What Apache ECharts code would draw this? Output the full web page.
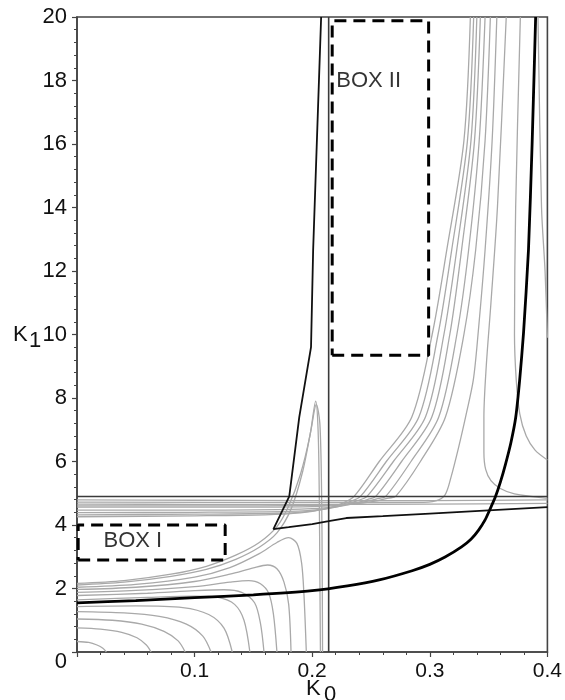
<!DOCTYPE html>
<html><head><meta charset="utf-8">
<script src="https://cdn.jsdelivr.net/npm/echarts/dist/echarts.min.js"></script>
<style>html,body{margin:0;padding:0;background:#fff}#c{width:565px;height:700px}</style>
</head><body><div id="c"></div>
<script>
// ---- data (K0, K1) ----
const xTickValues = [0.1, 0.2, 0.3, 0.4];
const yTickValues = [0, 2, 4, 6, 8, 10, 12, 14, 16, 18, 20];

const blackThick = [[0,1.55],[0.05,1.62],[0.1,1.71],[0.15,1.8],[0.2,1.93],[0.23,2.08],[0.257,2.27],[0.285,2.56],[0.3,2.76],[0.313,2.99],[0.327,3.31],[0.335,3.55],[0.3415,3.84],[0.347,4.16],[0.351,4.48],[0.3557,4.88],[0.36,5.35],[0.3644,5.92],[0.369,6.6],[0.3731,7.4],[0.3765,8.6],[0.3797,10.05],[0.3839,12.66],[0.387,16],[0.39,20]];
const blackThin = [[0.2076,20],[0.2008,12.66],[0.199,9.6],[0.189,7.4],[0.1805,4.9],[0.167,3.87],[0.18,3.93],[0.2,4.03],[0.214,4.12],[0.229,4.22],[0.26,4.28],[0.3,4.36],[0.35,4.46],[0.4,4.56]];
const vertLine = [[0.214,0],[0.214,20]];
const horizLine = [[0,4.9],[0.4,4.9]];

const A1 = [[0,0.33],[0.01,0.3],[0.017,0.22],[0.022,0.12],[0.025,0]];
const A2 = [[0,0.76],[0.02,0.72],[0.038,0.62],[0.051,0.45],[0.059,0.22],[0.063,0]];
const A3 = [[0,1.04],[0.03,1.0],[0.055,0.88],[0.074,0.65],[0.086,0.35],[0.092,0]];
const A4 = [[0,1.27],[0.04,1.23],[0.07,1.12],[0.093,0.88],[0.107,0.5],[0.114,0]];
const A5 = [[0,1.43],[0.05,1.45],[0.09,1.4],[0.112,1.18],[0.125,0.75],[0.132,0]];
const B6 = [[0,1.64],[0.06,1.72],[0.1,1.76],[0.12,1.72],[0.134,1.5],[0.142,1.0],[0.147,0]];
const B5 = [[0,1.78],[0.06,1.85],[0.1,1.93],[0.125,1.96],[0.14,1.88],[0.151,1.55],[0.156,0.9],[0.159,0]];
const B4 = [[0,1.88],[0.05,1.94],[0.1,2.06],[0.13,2.2],[0.146,2.25],[0.156,2.15],[0.163,1.85],[0.167,1.2],[0.17,0]];
const B3 = [[0,1.97],[0.05,2.04],[0.1,2.22],[0.13,2.45],[0.15,2.65],[0.162,2.74],[0.17,2.62],[0.176,2.2],[0.18,1.5],[0.182,0]];
const B2 = [[0,2.04],[0.05,2.13],[0.1,2.36],[0.13,2.66],[0.155,3.1],[0.17,3.45],[0.18,3.6],[0.187,3.42],[0.191,2.8],[0.193,1.8],[0.195,0]];
const B1 = [[0,2.16],[0.04,2.25],[0.08,2.45],[0.11,2.7],[0.135,3.05],[0.155,3.45],[0.17,3.95],[0.18,4.6],[0.19,5.6],[0.198,6.8],[0.203,7.9],[0.205,7.0],[0.206,5],[0.2065,2.5],[0.207,0]];
const B1b = [[0,2.11],[0.04,2.2],[0.08,2.38],[0.11,2.6],[0.135,2.92],[0.155,3.3],[0.17,3.75],[0.182,4.5],[0.192,5.7],[0.199,7],[0.2035,7.8],[0.2065,7.2],[0.208,5],[0.2085,2.5],[0.2088,0]];
const Hg1 = [[0,4.79],[0.1,4.78],[0.2,4.77],[0.3,4.77],[0.4,4.79]];
const Hg2 = [[0,4.66],[0.1,4.65],[0.2,4.65],[0.3,4.66],[0.4,4.68]];
const R1 = [[0,4.26],[0.1,4.29],[0.16,4.32],[0.19,4.38],[0.21,4.5],[0.224,4.66],[0.2356,4.9],[0.257,6.0],[0.2847,7.4],[0.302,10],[0.3144,12.66],[0.329,16.1],[0.3345,20]];
const R2 = [[0,4.32],[0.1,4.34],[0.17,4.37],[0.2,4.44],[0.218,4.56],[0.231,4.72],[0.241,4.9],[0.263,6.0],[0.2907,7.4],[0.307,10],[0.3186,12.66],[0.332,16.1],[0.3373,20]];
const R3 = [[0,4.39],[0.1,4.4],[0.18,4.43],[0.21,4.5],[0.226,4.62],[0.238,4.76],[0.2466,4.9],[0.269,6.0],[0.2963,7.4],[0.312,10],[0.3229,12.66],[0.335,16.1],[0.34,20]];
const R4 = [[0,4.47],[0.1,4.47],[0.19,4.5],[0.22,4.57],[0.236,4.68],[0.247,4.8],[0.254,4.9],[0.276,6.0],[0.3017,7.4],[0.317,10],[0.327,12.66],[0.338,16.1],[0.343,20]];
const R5 = [[0,4.56],[0.1,4.56],[0.2,4.58],[0.23,4.64],[0.246,4.74],[0.256,4.83],[0.2625,4.9],[0.284,6.0],[0.3076,7.4],[0.323,10],[0.333,12.66],[0.342,16.1],[0.347,20]];
const R6 = [[0,4.6],[0.1,4.6],[0.21,4.62],[0.24,4.68],[0.256,4.77],[0.265,4.85],[0.271,4.9],[0.292,6.0],[0.3133,7.4],[0.329,10],[0.339,12.66],[0.347,16.1],[0.3515,20]];
const R7 = [[0,4.72],[0.2,4.71],[0.29,4.71],[0.305,4.76],[0.313,4.95],[0.318,5.5],[0.3246,6.46],[0.331,7.5],[0.337,8.57],[0.341,10],[0.347,12.66],[0.353,16.1],[0.357,20]];
const R8 = [[0.365,20],[0.3575,14],[0.352,11],[0.348,9],[0.346,7.4],[0.346,6.3],[0.3475,5.75],[0.352,5.4],[0.36,5.15],[0.372,4.98],[0.4,4.84]];
const R9 = [[0.377,20],[0.373,14],[0.372,10],[0.3735,8.57],[0.3765,7.5],[0.382,6.8],[0.3895,6.36],[0.4,6.05]];
const R10 = [[0.392,20],[0.395,14],[0.398,12],[0.4,9.9]];
const grayCurves = [A1,A2,A3,A4,A5,B6,B5,B4,B3,B2,B1,B1b,Hg1,Hg2,R1,R2,R3,R4,R5,R6,R7,R8,R9,R10];

const boxI = [[0.001,2.9],[0.126,2.9],[0.126,4.0],[0.001,4.0],[0.001,2.9]];
const boxII = [[0.217,9.35],[0.299,9.35],[0.299,19.88],[0.217,19.88],[0.217,9.35]];
const boxLabels = [{name:'BOX I', value:[0.0475,3.5]},{name:'BOX II', value:[0.248,17.98]}];

// ---- chart ----
const FONT = 'Liberation Sans, Arial, Helvetica, sans-serif';
const chart = echarts.init(document.getElementById('c'), null, {renderer:'canvas'});
const series = [];
grayCurves.forEach(c => series.push({type:'line', data:c, symbol:'none', smooth:0.3, silent:true,
  lineStyle:{color:'#a9a9a9', width:1.3}, z:2}));
series.push({type:'line', data:horizLine, symbol:'none', silent:true, lineStyle:{color:'#3a3a3a', width:1.6}, z:3});
series.push({type:'line', data:vertLine, symbol:'none', silent:true, lineStyle:{color:'#3a3a3a', width:1.6}, z:3});
series.push({type:'line', data:blackThin, symbol:'none', silent:true, lineStyle:{color:'#111', width:1.8}, z:4});
series.push({type:'line', data:blackThick, symbol:'none', smooth:0.2, silent:true, lineStyle:{color:'#000', width:2.8}, z:5});
[boxI, boxII].forEach(b => series.push({type:'line', data:b, symbol:'none', silent:true,
  lineStyle:{color:'#000', width:3, type:[12,7]}, z:6}));
series.push({type:'scatter', data:boxLabels, symbolSize:0, silent:true, z:7,
  label:{show:true, position:'inside', formatter:p=>p.name, fontSize:22, color:'#000', fontFamily:FONT}});

const axisCommon = {
  axisLine:{show:true, onZero:false, lineStyle:{color:'#444', width:1.6}},
  axisTick:{show:true, inside:false, length:5, lineStyle:{color:'#444', width:1.2}},
  minorTick:{show:true, splitNumber:5, length:3, lineStyle:{color:'#444', width:1}},
  splitLine:{show:false}, minorSplitLine:{show:false}
};
chart.setOption({
  animation:false,
  backgroundColor:'#fff',
  grid:{left:77, right:16, top:17, bottom:48, containLabel:false, show:true, borderColor:'#444', borderWidth:1.6, backgroundColor:'transparent'},
  xAxis:Object.assign({type:'value', min:0, max:0.4, interval:0.1,
    axisLabel:{fontSize:21, color:'#111', fontFamily:FONT, margin:9,
      formatter:v => xTickValues.some(t=>Math.abs(t-v)<1e-9) ? v.toFixed(1) : ''}}, axisCommon),
  yAxis:Object.assign({type:'value', min:0, max:20, interval:2,
    axisLabel:{fontSize:22, color:'#111', fontFamily:FONT, margin:10,
      formatter:v => v===0 ? '{z|0}' : (yTickValues.indexOf(v)>=0 ? String(v) : ''),
      rich:{z:{fontSize:22, color:'#111', fontFamily:FONT, padding:[20,0,0,0]}}}}, axisCommon),
  series:series,
  graphic:[
    {type:'text', left:306, top:678, style:{text:'K', fontSize:22, fill:'#111', fontFamily:FONT}},
    {type:'text', left:324, top:684, style:{text:'0', fontSize:22, fill:'#111', fontFamily:FONT}},
    {type:'text', left:13, top:324, style:{text:'K', fontSize:22, fill:'#111', fontFamily:FONT}},
    {type:'text', left:29, top:330, style:{text:'1', fontSize:22, fill:'#111', fontFamily:FONT}}
  ]
});
</script>
</body></html>
